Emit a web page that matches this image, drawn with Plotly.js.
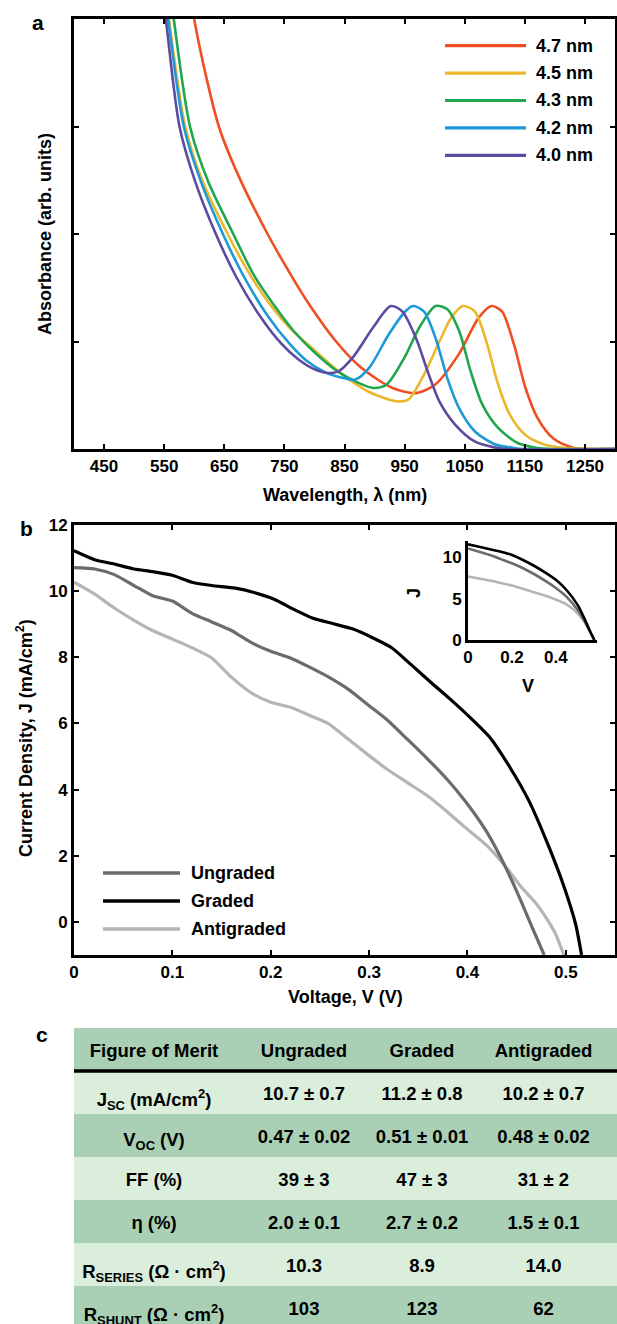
<!DOCTYPE html>
<html><head><meta charset="utf-8">
<script src="https://cdn.plot.ly/plotly-3.0.1.min.js"></script>
<style>html,body{margin:0;padding:0;overflow:hidden;background:#fff}</style>
</head><body><div id="chart" style="width:617px;height:1340px"></div>
<script>
// ---------- Panel a: absorbance spectra ----------
const sizeNames = ['4.7 nm', '4.5 nm', '4.3 nm', '4.2 nm', '4.0 nm'];
const sizeColors = ['#f04e23', '#ebb82c', '#1fa64e', '#1c99d6', '#5c4b9f'];
const wl47 = [588, 600, 641, 673, 722, 764, 793, 836, 878, 930, 969, 1001, 1040, 1073, 1094.5, 1112, 1132, 1151, 1171, 1197, 1229, 1255, 1300];
const ab47 = [4.6, 4.0, 3.0, 2.55, 2.0, 1.59, 1.33, 1.0, 0.755, 0.568, 0.52, 0.6, 0.88, 1.22, 1.33, 1.28, 0.97, 0.57, 0.29, 0.10, 0.015, 0, 0];
const wl45 = [546, 558, 585, 614, 655.5, 693, 728, 760, 800, 845, 891, 936.5, 956, 982, 1008, 1027.5, 1047, 1066.6, 1086, 1105.6, 1125, 1151, 1183.6, 1216, 1250, 1300];
const ab45 = [4.6, 4.0, 3.0, 2.49, 2.0, 1.62, 1.33, 1.12, 0.92, 0.70, 0.53, 0.444, 0.46, 0.69, 1.0, 1.22, 1.33, 1.28, 1.0, 0.6, 0.32, 0.13, 0.04, 0.01, 0, 0];
const wl43 = [553, 566, 593, 623, 665, 699, 735, 765, 800, 839, 871.5, 897.5, 920, 949.5, 975.5, 1001.6, 1021, 1040.6, 1060, 1079.6, 1105.6, 1138, 1170.6, 1200, 1300];
const ab43 = [4.6, 4.0, 3.0, 2.49, 2.0, 1.62, 1.32, 1.10, 0.90, 0.72, 0.62, 0.568, 0.6, 0.848, 1.14, 1.33, 1.30, 1.10, 0.72, 0.41, 0.196, 0.056, 0.01, 0, 0];
const wl42 = [544, 556.7, 582.7, 611, 647.7, 683, 722, 760, 787, 819, 852, 868, 891, 923.5, 949.5, 964, 982, 1001.6, 1021, 1040.6, 1066.6, 1099, 1131.6, 1150, 1300];
const ab42 = [4.6, 4.0, 3.0, 2.49, 2.0, 1.6, 1.24, 0.97, 0.82, 0.71, 0.655, 0.646, 0.755, 1.065, 1.27, 1.33, 1.28, 1.03, 0.66, 0.38, 0.165, 0.047, 0.01, 0, 0];
const wl40 = [540, 552.8, 575.5, 601.5, 636, 670, 709, 745, 774, 796.7, 819.4, 839, 865, 897.5, 927, 946, 969, 988.5, 1008, 1034, 1066.6, 1099, 1120, 1300];
const ab40 = [4.6, 4.0, 3.0, 2.49, 2.0, 1.6, 1.24, 0.98, 0.83, 0.75, 0.71, 0.72, 0.86, 1.13, 1.33, 1.28, 1.03, 0.72, 0.44, 0.227, 0.07, 0.015, 0, 0];
const wlTicks = [450, 550, 650, 750, 850, 950, 1050, 1150, 1250];

// ---------- Panel b: J-V curves ----------
const devNames = ['Ungraded', 'Graded', 'Antigraded'];
const devColors = ['#6b6b6b', '#000000', '#b5b5b5'];
const vUng = [0, 0.021, 0.041, 0.061, 0.08, 0.1, 0.12, 0.14, 0.16, 0.18, 0.2, 0.22, 0.239, 0.259, 0.279, 0.299, 0.319, 0.339, 0.359, 0.379, 0.398, 0.419, 0.438, 0.454, 0.466, 0.478];
const jUng = [10.71, 10.67, 10.5, 10.17, 9.86, 9.7, 9.33, 9.07, 8.81, 8.45, 8.18, 7.98, 7.71, 7.40, 7.03, 6.56, 6.09, 5.52, 4.94, 4.32, 3.64, 2.75, 1.70, 0.66, -0.18, -1.0];
const vGra = [0, 0.021, 0.041, 0.061, 0.08, 0.1, 0.12, 0.14, 0.164, 0.183, 0.204, 0.224, 0.243, 0.263, 0.283, 0.303, 0.323, 0.343, 0.363, 0.383, 0.402, 0.423, 0.442, 0.462, 0.482, 0.498, 0.51, 0.516];
const jGra = [11.22, 10.95, 10.82, 10.67, 10.59, 10.48, 10.27, 10.17, 10.09, 9.96, 9.75, 9.44, 9.18, 9.02, 8.86, 8.60, 8.29, 7.77, 7.24, 6.72, 6.2, 5.57, 4.73, 3.69, 2.33, 1.08, -0.07, -1.0];
const vAnt = [0, 0.021, 0.041, 0.061, 0.08, 0.1, 0.12, 0.14, 0.16, 0.18, 0.2, 0.22, 0.239, 0.259, 0.279, 0.299, 0.319, 0.339, 0.359, 0.379, 0.398, 0.419, 0.438, 0.454, 0.47, 0.482, 0.49, 0.498];
const jAnt = [10.27, 9.91, 9.49, 9.12, 8.81, 8.55, 8.29, 7.98, 7.40, 6.93, 6.64, 6.49, 6.25, 5.99, 5.52, 5.05, 4.60, 4.21, 3.82, 3.34, 2.85, 2.33, 1.70, 1.08, 0.55, 0.03, -0.39, -1.0];
const vTicks = [0, 0.1, 0.2, 0.3, 0.4, 0.5];
const vTickText = ['0', '0.1', '0.2', '0.3', '0.4', '0.5'];
const jTicks = [0, 2, 4, 6, 8, 10, 12];

// inset
const vIn = [0, 0.05, 0.1, 0.15, 0.2, 0.25, 0.3, 0.35, 0.4, 0.45, 0.5, 0.53, 0.555, 0.575];
const jInUng = [11.1, 10.7, 10.3, 9.8, 9.3, 8.7, 8.0, 7.2, 6.3, 5.2, 3.6, 2.3, 1.0, 0];
const jInGra = [11.6, 11.3, 11.0, 10.7, 10.3, 9.7, 9.0, 8.2, 7.3, 6.0, 4.2, 2.6, 1.1, 0];
const jInAnt = [7.7, 7.45, 7.2, 6.9, 6.6, 6.2, 5.8, 5.4, 4.9, 4.3, 3.2, 2.2, 1.0, 0];
const vInTicks = [0, 0.2, 0.4];
const vInTickText = ['0', '0.2', '0.4'];
const jInTicks = [0, 5, 10];

// ---------- Panel c: table ----------
const tableHeader = ['Figure of Merit', 'Ungraded', 'Graded', 'Antigraded'];
const meritNames = ['J<sub>SC</sub> (mA/cm<sup>2</sup>)', 'V<sub>OC</sub> (V)', 'FF (%)', 'η (%)',
  'R<sub>SERIES</sub> (Ω · cm<sup>2</sup>)', 'R<sub>SHUNT</sub> (Ω · cm<sup>2</sup>)'];
const ungradedVals = ['10.7 ± 0.7', '0.47 ± 0.02', '39 ± 3', '2.0 ± 0.1', '10.3', '103'];
const gradedVals = ['11.2 ± 0.8', '0.51 ± 0.01', '47 ± 3', '2.7 ± 0.2', '8.9', '123'];
const antigradedVals = ['10.2 ± 0.7', '0.48 ± 0.02', '31 ± 2', '1.5 ± 0.1', '14.0', '62'];

// ---------- layout helpers ----------
const W = 617, H = 1340;
const fx = v => v / W;
const fy = v => 1 - v / H;
const FONT = 'Liberation Sans, Arial, Helvetica, sans-serif';
const bold = (size) => ({family: FONT, size: size, color: '#000', weight: 'bold'});
const nb = s => s.replace(/ /g, '\u00a0');

function frameAxis(extra) {
  return Object.assign({
    showline: true, linewidth: 3, linecolor: '#000', mirror: 'ticks',
    ticks: 'inside', ticklen: 5, tickwidth: 2, tickcolor: '#000',
    showgrid: false, zeroline: false, fixedrange: true,
    tickfont: bold(17)
  }, extra);
}

const traces = [];
const wls = [wl47, wl45, wl43, wl42, wl40];
const abs = [ab47, ab45, ab43, ab42, ab40];
for (let i = 0; i < 5; i++) {
  traces.push({type: 'scatter', mode: 'lines', name: sizeNames[i], x: wls[i], y: abs[i],
    xaxis: 'x', yaxis: 'y', showlegend: false, hoverinfo: 'skip',
    line: {color: sizeColors[i], width: 2.6, shape: 'spline', smoothing: 0.8}});
}
const vs = [vUng, vGra, vAnt];
const js = [jUng, jGra, jAnt];
const jIns = [jInUng, jInGra, jInAnt];
const order = [2, 0, 1];
order.forEach(i => {
  traces.push({type: 'scatter', mode: 'lines', name: devNames[i], x: vs[i], y: js[i],
    xaxis: 'x2', yaxis: 'y2', showlegend: false, hoverinfo: 'skip',
    line: {color: devColors[i], width: 3.2, shape: 'spline', smoothing: 0.6}});
});
order.forEach(i => {
  traces.push({type: 'scatter', mode: 'lines', name: devNames[i] + ' (inset)', x: vIn, y: jIns[i],
    xaxis: 'x3', yaxis: 'y3', showlegend: false, hoverinfo: 'skip',
    line: {color: devColors[i], width: 2.6, shape: 'spline', smoothing: 0.6}});
});

// table: text from the arrays; row bands drawn as background shapes
const LIGHT = '#dbeddb', DARK = '#a9d0b4';
const TABLE_TOP = 1028, HEAD_H = 43, ROW_H = 43, TEXT_SHIFT = 7;
traces.push({
  type: 'table',
  domain: {x: [fx(74), 1], y: [0, fy(TABLE_TOP + TEXT_SHIFT)]},
  columnwidth: [160, 140, 96, 147],
  header: {values: tableHeader.map(nb), align: 'center', height: HEAD_H,
    fill: {color: 'rgba(0,0,0,0)'}, line: {width: 0, color: 'rgba(0,0,0,0)'}, font: bold(18.5)},
  cells: {values: [meritNames, ungradedVals, gradedVals, antigradedVals].map(c => c.map(nb)),
    align: 'center', height: ROW_H,
    fill: {color: 'rgba(0,0,0,0)'}, line: {width: 0, color: 'rgba(0,0,0,0)'}, font: bold(18.5)}
});

const annotations = [];
const shapes = [];
function label(text, x, y, size, extra) {
  annotations.push(Object.assign({text: text, x: fx(x), y: fy(y), xref: 'paper', yref: 'paper',
    showarrow: false, font: bold(size), xanchor: 'center', yanchor: 'middle'}, extra || {}));
}
function band(y0, y1, color) {
  shapes.push({type: 'rect', xref: 'paper', yref: 'paper', x0: fx(74), x1: 1, y0: fy(y1), y1: fy(y0),
    fillcolor: color, line: {width: 0}, layer: 'below'});
}
band(TABLE_TOP, TABLE_TOP + HEAD_H, DARK);
meritNames.forEach((_, r) => {
  const y0 = TABLE_TOP + HEAD_H + r * ROW_H;
  band(y0, y0 + ROW_H, r % 2 === 0 ? LIGHT : DARK);
});
shapes.push({type: 'line', xref: 'paper', yref: 'paper', x0: fx(74), x1: 1,
  y0: fy(TABLE_TOP + HEAD_H), y1: fy(TABLE_TOP + HEAD_H), line: {color: '#000', width: 3.5}, layer: 'below'});

label('a', 38, 22, 21);
label('b', 26, 528, 21);
label('c', 42, 1034, 21);
label('Absorbance (arb. units)', 45, 234, 18, {textangle: -90});
label('Wavelength, λ (nm)', 345, 495, 18);
label('Current Density, J (mA/cm<sup>2</sup>)', 24, 738, 18, {textangle: -90});
label('Voltage, V (V)', 345, 997, 18);
label('J', 414, 593, 18, {textangle: -90});
label('V', 528, 686, 18);

// legends (styles only, names/colours from the series arrays)
for (let i = 0; i < 5; i++) {
  const y = 45.7 + i * 27.4;
  shapes.push({type: 'line', xref: 'paper', yref: 'paper', x0: fx(445), x1: fx(526), y0: fy(y), y1: fy(y),
    line: {color: sizeColors[i], width: 3.2}});
  label(sizeNames[i], 534, y, 18, {xanchor: 'left'});
}
for (let i = 0; i < 3; i++) {
  const y = 873 + i * 28;
  shapes.push({type: 'line', xref: 'paper', yref: 'paper', x0: fx(103), x1: fx(180), y0: fy(y), y1: fy(y),
    line: {color: devColors[i], width: 3.5}});
  label(devNames[i], 189, y, 18, {xanchor: 'left'});
}

const layout = {
  width: W, height: H, margin: {l: 0, r: 0, t: 0, b: 0},
  paper_bgcolor: '#fff', plot_bgcolor: 'rgba(0,0,0,0)', showlegend: false,
  xaxis: frameAxis({domain: [fx(74), fx(615)], range: [400, 1300], tickvals: wlTicks, anchor: 'y'}),
  yaxis: frameAxis({domain: [fy(449), fy(19)], range: [0, 4], tickvals: [1, 2, 3], showticklabels: false, anchor: 'x'}),
  xaxis2: frameAxis({domain: [fx(74), fx(615)], range: [0, 0.55], tickvals: vTicks, ticktext: vTickText, anchor: 'y2'}),
  yaxis2: frameAxis({domain: [fy(955), fy(525)], range: [-1, 12], tickvals: jTicks, anchor: 'x2'}),
  xaxis3: {domain: [fx(468), fx(597)], range: [0, 0.587], tickvals: vInTicks, ticktext: vInTickText, anchor: 'y3',
    showline: true, linewidth: 3, linecolor: '#000', ticks: '', showgrid: false, zeroline: false, tickfont: bold(17)},
  yaxis3: {domain: [fy(640), fy(541)], range: [0, 12], tickvals: jInTicks, anchor: 'x3',
    showline: true, linewidth: 3, linecolor: '#000', ticks: '', showgrid: false, zeroline: false, tickfont: bold(17)},
  annotations: annotations,
  shapes: shapes
};

Plotly.newPlot('chart', traces, layout, {staticPlot: true, displayModeBar: false});
</script></body></html>
